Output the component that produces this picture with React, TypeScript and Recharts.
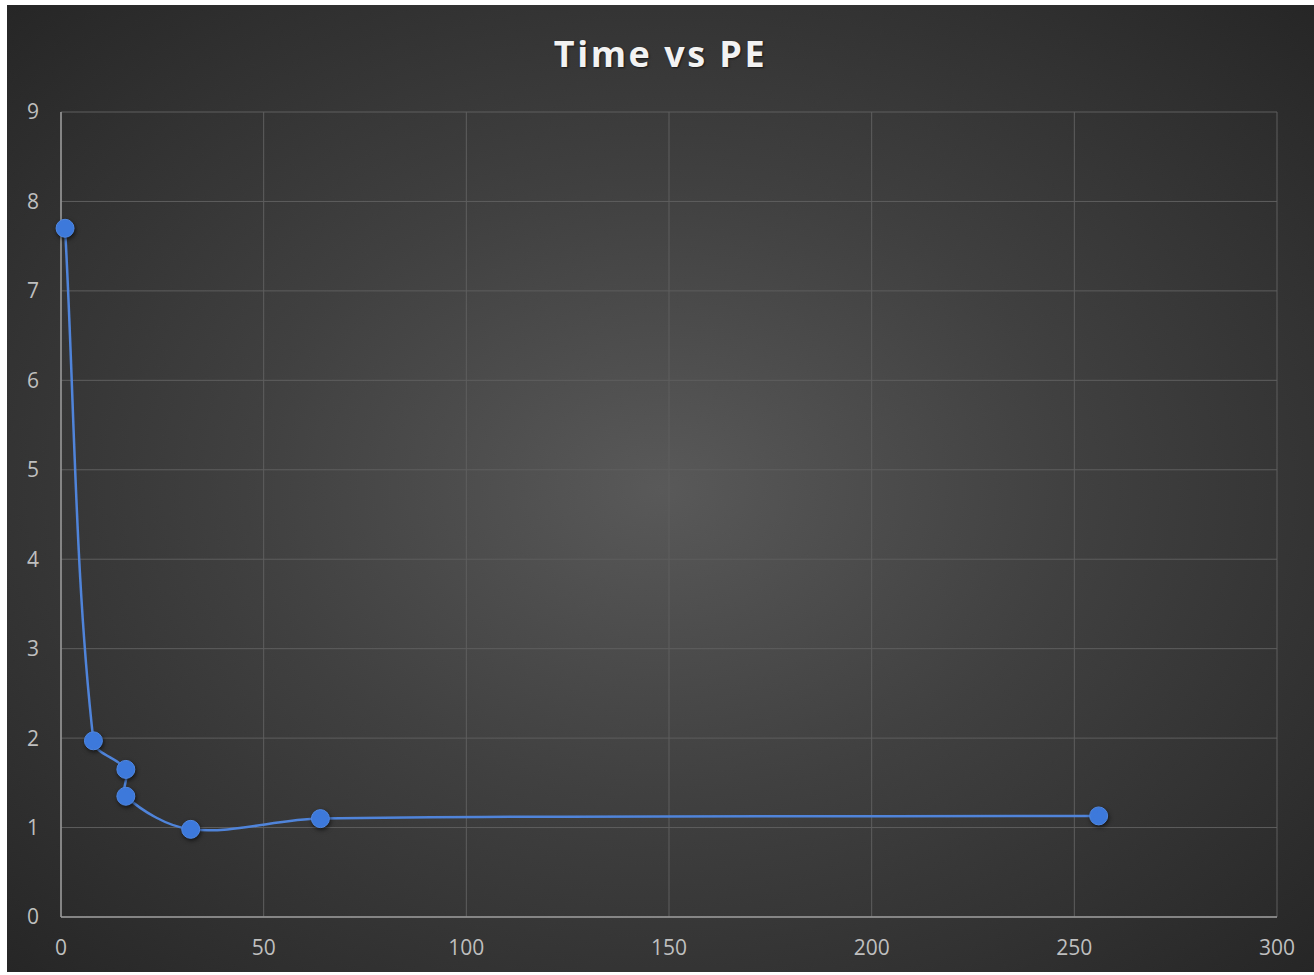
import { ScatterChart, Scatter, XAxis, YAxis, CartesianGrid } from 'recharts'

// PE count vs run time
const peCounts = [1, 8, 16, 16, 32, 64, 256]
const times    = [7.7, 1.97, 1.65, 1.35, 0.98, 1.1, 1.13]

const xTicks = [0, 50, 100, 150, 200, 250, 300]
const yTicks = [0, 1, 2, 3, 4, 5, 6, 7, 8, 9]

const data = peCounts.map((pe, i) => ({ pe, time: times[i] }))

// Excel-style smoothed line: Catmull-Rom tangents, scaled by segment length
// so short segments next to long ones don't overshoot
function excelCurve(context: any) {
  let pts: [number, number][] = []
  const dist = (a: [number, number], b: [number, number]) => Math.hypot(b[0] - a[0], b[1] - a[1])
  return {
    areaStart() {},
    areaEnd() {},
    lineStart() { pts = [] },
    lineEnd() {
      if (!pts.length) return
      context.moveTo(pts[0][0], pts[0][1])
      for (let i = 0; i < pts.length - 1; i++) {
        const p0 = pts[Math.max(i - 1, 0)]
        const p1 = pts[i]
        const p2 = pts[i + 1]
        const p3 = pts[Math.min(i + 2, pts.length - 1)]
        const d01 = dist(p0, p1)
        const d12 = dist(p1, p2)
        const d23 = dist(p2, p3)
        const k1 = d12 / (d01 + d12 || 1) / 3
        const k2 = d12 / (d12 + d23 || 1) / 3
        context.bezierCurveTo(
          p1[0] + (p2[0] - p0[0]) * k1, p1[1] + (p2[1] - p0[1]) * k1,
          p2[0] - (p3[0] - p1[0]) * k2, p2[1] - (p3[1] - p1[1]) * k2,
          p2[0], p2[1]
        )
      }
    },
    point(x: number, y: number) { pts.push([x, y]) },
  }
}

const tickStyle = { fontSize: 21, fill: '#bfbfbf', fontFamily: '"Open Sans", sans-serif' }

function Dot(props: any) {
  const { cx, cy } = props
  return (
    <circle
      cx={cx}
      cy={cy}
      r={9}
      fill="#3d79db"
      stroke="#5088e2"
      strokeWidth={1}
      style={{ filter: 'drop-shadow(1px 2px 2px rgba(0,0,0,0.6))' }}
    />
  )
}

export default function App() {
  return (
    <div
      style={{
        position: 'absolute',
        left: 7,
        top: 5,
        width: 1307,
        height: 967,
        background: 'radial-gradient(ellipse at 50% 50%, #595959 0%, #404040 45%, #262626 100%)',
      }}
    >
      <div
        style={{
          position: 'absolute',
          left: 0,
          right: 0,
          top: 24,
          textAlign: 'center',
          color: '#f2f2f2',
          fontFamily: '"Open Sans", sans-serif',
          fontWeight: 700,
          fontSize: 36,
          letterSpacing: 2.5,
          lineHeight: '50px',
          textShadow: '1px 1px 2px rgba(0,0,0,0.6)',
        }}
      >
        Time vs PE
      </div>

      <ScatterChart
        width={1307}
        height={967}
        margin={{ top: 107, right: 37, left: 14, bottom: 15 }}
      >
        <CartesianGrid stroke="#5e5e5e" strokeWidth={1} />

        <XAxis
          type="number"
          dataKey="pe"
          domain={[0, 300]}
          ticks={xTicks}
          height={40}
          stroke="#9a9a9a"
          strokeWidth={1.5}
          tickLine={false}
          tickMargin={17}
          tick={tickStyle}
          fontSize={21}
          interval={0}
        />

        <YAxis
          type="number"
          dataKey="time"
          domain={[0, 9]}
          ticks={yTicks}
          width={40}
          stroke="#9a9a9a"
          strokeWidth={1.5}
          tickLine={false}
          tickMargin={16}
          tick={tickStyle}
          fontSize={21}
          interval={0}
        />

        <Scatter
          data={data}
          line={{ stroke: '#4f84da', strokeWidth: 2.5 }}
          lineType="joint"
          lineJointType={excelCurve as any}
          shape={<Dot />}
          isAnimationActive={false}
        />
      </ScatterChart>
    </div>
  )
}
